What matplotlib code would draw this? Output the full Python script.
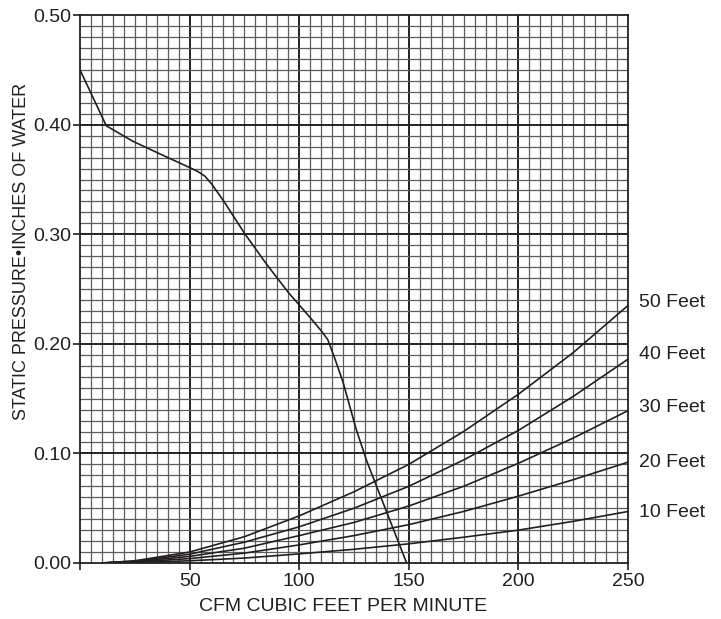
import numpy as np
import matplotlib.pyplot as plt

plt.rcParams['font.family'] = ['Liberation Sans', 'DejaVu Sans']

# fan performance curve
fan_cfm = [0, 12, 24, 39, 51, 54, 57, 60, 65, 75, 85, 95, 105, 110, 113, 116, 120, 126, 131, 140, 149]
fan_sp = [0.450, 0.399, 0.385, 0.371, 0.360, 0.357, 0.353, 0.346, 0.332, 0.301, 0.273, 0.247,
          0.224, 0.212, 0.204, 0.188, 0.165, 0.122, 0.092, 0.046, 0.0]

# duct length system curves
duct_cfm = [10, 25, 50, 75, 100, 125, 150, 175, 200, 225, 250]
duct_50 = [0, 0.002, 0.010, 0.024, 0.043, 0.065, 0.090, 0.120, 0.154, 0.192, 0.235]
duct_40 = [0, 0.0016, 0.008, 0.019, 0.033, 0.050, 0.070, 0.094, 0.121, 0.152, 0.186]
duct_30 = [0, 0.0012, 0.006, 0.0135, 0.025, 0.037, 0.052, 0.070, 0.091, 0.114, 0.139]
duct_20 = [0, 0.0008, 0.004, 0.009, 0.0165, 0.025, 0.035, 0.047, 0.061, 0.076, 0.092]
duct_10 = [0, 0.0004, 0.002, 0.0045, 0.0083, 0.0125, 0.0175, 0.0235, 0.030, 0.038, 0.047]
duct_labels = ["50 Feet", "40 Feet", "30 Feet", "20 Feet", "10 Feet"]
label_y = [0.238, 0.190, 0.142, 0.092, 0.046]

x_ticks = [0, 50, 100, 150, 200, 250]
x_ticklabels = ["", "50", "100", "150", "200", "250"]
y_ticks = [0.0, 0.1, 0.2, 0.3, 0.4, 0.5]
y_ticklabels = ["0.00", "0.10", "0.20", "0.30", "0.40", "0.50"]

ink = '#231f20'

fig = plt.figure(figsize=(7.21, 6.19), dpi=100)
ax = fig.add_axes([0.111, 0.0905, 0.760, 0.885])
ax.set_xlim(0, 250)
ax.set_ylim(0, 0.5)

# graph paper grid
for gx in np.arange(5, 250, 5):
    major = gx % 50 == 0
    ax.axvline(gx, color='#222222' if major else '#5c5c5c',
               lw=1.4 if major else 0.9, zorder=1)
for gy in np.arange(0.01, 0.5, 0.01):
    major = round(gy * 100) % 10 == 0
    ax.axhline(gy, color='#222222' if major else '#5c5c5c',
               lw=1.4 if major else 0.9, zorder=1)

ax.plot(fan_cfm, fan_sp, color=ink, lw=1.2, zorder=3)
for ys in [duct_50, duct_40, duct_30, duct_20, duct_10]:
    ax.plot(duct_cfm, ys, color=ink, lw=1.2, zorder=3)

for lbl, ly in zip(duct_labels, label_y):
    ax.text(255, ly, lbl, fontsize=14, color=ink, va='center', ha='left',
            clip_on=False)

ax.set_xticks(x_ticks)
ax.set_xticklabels(x_ticklabels)
ax.set_yticks(y_ticks)
ax.set_yticklabels(y_ticklabels)
ax.tick_params(direction='out', length=5, width=1.2, labelsize=14, colors=ink)
ax.tick_params(axis='y', pad=1)
ax.tick_params(axis='x', pad=2)
for sp in ax.spines.values():
    sp.set_linewidth(1.3)
    sp.set_color(ink)

fig.text(0.476, 0.020, "CFM CUBIC FEET PER MINUTE", fontsize=14, color=ink,
         ha='center', va='center')
fig.text(0.030, 0.5945, "STATIC PRESSURE\u2022INCHES OF WATER", fontsize=13, color=ink,
         ha='center', va='center', rotation=90)

fig.savefig("out.png", dpi=100)
